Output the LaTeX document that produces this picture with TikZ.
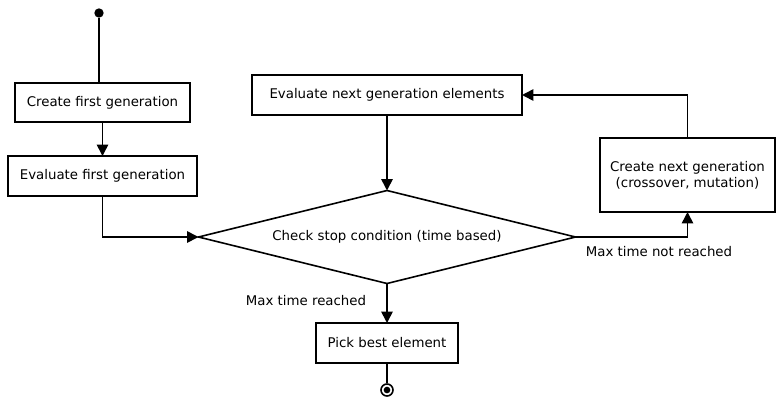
\documentclass[tikz,border=0pt]{standalone}
\usepackage{fontspec}
\setmainfont{DejaVu Sans}
\usetikzlibrary{shapes.geometric,arrows.meta}
\begin{document}
\begin{tikzpicture}[x=0.75pt,y=-0.75pt,
  font=\fontsize{10pt}{12pt}\selectfont,
  line width=1.2pt,
  box/.style={draw,rectangle,inner sep=0pt,outer sep=0pt,align=center},
  arr/.style={-{Triangle[length=8.5pt,width=8.5pt]}},
  lbl/.style={inner sep=0pt}]
\useasboundingbox (0,0) rectangle (777,400);
\node[circle,fill,inner sep=0pt,minimum size=7pt] (start) at (99,13) {};
\node[box,minimum width=175*0.75pt,minimum height=39*0.75pt] (create) at (102.5,102.5) {Create first generation};
\node[box,minimum width=189*0.75pt,minimum height=40*0.75pt] (evalfirst) at (102.5,176) {Evaluate first generation};
\node[draw,diamond,aspect=4.054,inner sep=0pt,outer sep=0pt,minimum width=377*0.75pt,minimum height=93*0.75pt] (diam) at (387,237) {Check stop condition (time based)};
\node[box,minimum width=270*0.75pt,minimum height=40*0.75pt] (evalnext) at (387,95) {Evaluate next generation elements};
\node[box,minimum width=175*0.75pt,minimum height=74*0.75pt] (createnext) at (687.5,175) {Create next generation\\(crossover, mutation)};
\node[box,minimum width=142*0.75pt,minimum height=40*0.75pt] (pick) at (387,343) {Pick best element};
\node[circle,draw,line width=1.2pt,inner sep=0pt,minimum size=9pt] (endo) at (387,390) {};
\node[circle,fill,inner sep=0pt,minimum size=5pt] (endi) at (387,390) {};
\node[lbl] (lnot) at (659,252) {Max time not reached};
\node[lbl] (lyes) at (306,301) {Max time reached};
\draw (start) -- (start |- create.north);
\draw[arr] (create) -- (evalfirst);
\draw[arr] (evalfirst.south) |- (diam.west);
\draw[arr] (evalnext.south) -- (diam.north);
\draw[arr] (diam.east) -| (createnext.south);
\draw[arr] (createnext.north) |- (evalnext.east);
\draw[arr] (diam.south) -- (pick.north);
\draw (pick.south) -- (endo.north);
\end{tikzpicture}
\end{document}
